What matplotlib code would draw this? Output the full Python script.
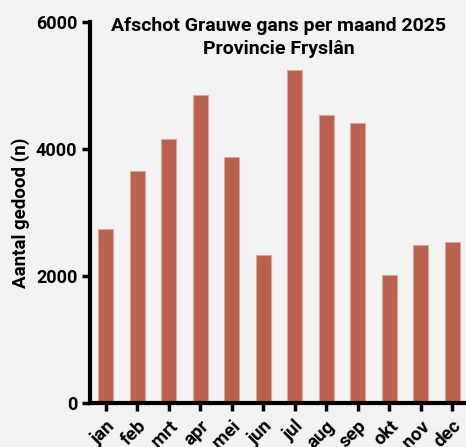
import matplotlib
matplotlib.use("Agg")
import matplotlib.pyplot as plt
from matplotlib.transforms import ScaledTranslation

# data
months = ['jan', 'feb', 'mrt', 'apr', 'mei', 'jun', 'jul', 'aug', 'sep', 'okt', 'nov', 'dec']
killed = [2740, 3650, 4160, 4850, 3870, 2330, 5240, 4530, 4410, 2010, 2490, 2530]
yticks = [0, 2000, 4000, 6000]

plt.rcParams['font.family'] = ['Roboto', 'DejaVu Sans']
plt.rcParams['font.weight'] = 'bold'

fig = plt.figure(figsize=(4.66, 4.47), dpi=100, facecolor='#f2f2f2')
ax = fig.add_axes([0.193, 0.098, 0.811, 0.853])
ax.set_facecolor('#f2f2f2')

x = range(len(months))
ax.bar(x, killed, width=0.48, color='#b9614e', edgecolor='#d9a89c', linewidth=0.8)

ax.set_xlim(-0.5, 11.5)
ax.set_ylim(0, 6000)
ax.set_yticks(yticks)
ax.set_yticklabels([str(t) for t in yticks], fontsize=13, fontweight='bold')
ax.set_xticks(list(x))
ax.set_xticklabels(months, rotation=45, ha='right', rotation_mode='anchor',
                   fontsize=13.5, fontweight='bold')
# nudge rotated labels a little to the right, like the original
shift = ScaledTranslation(4 / 100, 0, fig.dpi_scale_trans)
for lbl in ax.get_xticklabels():
    lbl.set_transform(lbl.get_transform() + shift)

for side in ['top', 'right']:
    ax.spines[side].set_visible(False)
for side in ['left', 'bottom']:
    ax.spines[side].set_linewidth(3)
ax.tick_params(axis='y', direction='out', length=6, width=2.5, pad=3)
ax.tick_params(axis='x', direction='out', length=6, width=2.5, pad=4)

ax.set_ylabel('Aantal gedood (n)', fontsize=13.5, fontweight='bold', labelpad=4)
ax.set_title('Afschot Grauwe gans per maand 2025\nProvincie Fryslân',
             fontsize=14, fontweight='bold', y=0.895, linespacing=1.3)

fig.savefig('out.png', dpi=100, facecolor=fig.get_facecolor())
